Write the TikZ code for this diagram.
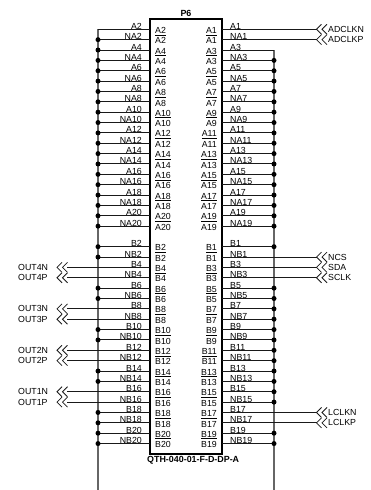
\documentclass[tikz,border=0pt]{standalone}
\usepackage{fontspec}
\setmainfont{Liberation Sans}
\tikzset{
	wire/.style={line width=1pt,black!90},
	bus/.style={line width=1.1pt,black!60},
	junction/.style={circle,fill=black,inner sep=0pt,minimum size=5pt},
	netlabel/.style={inner sep=0pt,font=\fontsize{8.8}{10}\selectfont},
	offlabel/.style={inner sep=0pt,anchor=west,font=\fontsize{8.8}{10}\selectfont},
	partlabel/.style={inner sep=0pt,font=\bfseries\fontsize{8.9}{10}\selectfont},
	chevron/.style={line width=0.8pt,black!90}
}
% double chevron at the end of a wire, tips to the left
\newcommand{\offpage}[1]{
	\draw[chevron] ([shift={(5,-5)}]#1) -- (#1) -- ([shift={(5,5)}]#1);
	\draw[chevron] ([shift={(10.5,-5)}]#1) -- ([shift={(5.5,0)}]#1) -- ([shift={(10.5,5)}]#1);
}
\begin{document}
\begin{tikzpicture}[x=1pt,y=-1pt]
	\useasboundingbox (0,0) rectangle (370,490);

	% Connector body
	\node[partlabel,anchor=base] (title) at (186,16) {P6};
	\node[partlabel,anchor=base west] (part) at (147,462) {QTH-040-01-F-D-DP-A};
	\coordinate (tl) at (150,19);
	\coordinate (br) at (222,454);
	\draw[line width=1.2pt] (tl) rectangle (br);

	% Pins, two per row on each side
	\foreach \pre/\top/\num in {A/29.3/0,B/246.7/1} {
		\foreach \i in {0,...,9} {
			\pgfmathtruncatemacro{\even}{2*\i+2}
			\pgfmathtruncatemacro{\odd}{2*\i+1}
			\pgfmathsetmacro{\ya}{\top+20.72*\i}
			\pgfmathsetmacro{\yb}{\ya+10.36}
			% left side
			\coordinate (l\pre\even) at (150,\ya);
			\coordinate (ln\pre\even) at (150,\yb);
			\node[netlabel,anchor=base west] (pl\pre\even) at (155,\ya+4) {\underline{\pre\even}};
			\node[netlabel,anchor=base west] (pln\pre\even) at (155,\yb+4.2) {\pre\even};
			\node[netlabel,anchor=base east] (nl\pre\even) at (142,\ya) {\pre\even};
			\node[netlabel,anchor=base east] (nln\pre\even) at (142,\yb) {N\pre\even};
			% right side
			\coordinate (r\pre\odd) at (222,\ya);
			\coordinate (rn\pre\odd) at (222,\yb);
			\node[netlabel,anchor=base east] (pr\pre\odd) at (217,\ya+4) {\underline{\pre\odd}};
			\node[netlabel,anchor=base east] (prn\pre\odd) at (217,\yb+4.2) {\pre\odd};
			\node[netlabel,anchor=base west] (nr\pre\odd) at (230,\ya) {\pre\odd};
			\node[netlabel,anchor=base west] (nrn\pre\odd) at (230,\yb) {N\pre\odd};
			% stubs
			\coordinate (bl\pre\even) at (98,\ya);
			\coordinate (bln\pre\even) at (98,\yb);
			\coordinate (br\pre\odd) at (274,\ya);
			\coordinate (brn\pre\odd) at (274,\yb);
		}
	}

	% Power buses
	\coordinate (busltop) at (98,29.3);
	\coordinate (buslend) at (98,490);
	\coordinate (busrtop) at (274,50);
	\coordinate (busrend) at (274,490);
	\draw[bus] (busltop) -- (buslend);
	\draw[bus] (busrtop) -- (busrend);

	% Left stubs on the bus
	\foreach \a/\b in {lA2/blA2,lnA2/blnA2,lA4/blA4,lnA4/blnA4,lA6/blA6,lnA6/blnA6,lA8/blA8,lnA8/blnA8,lA10/blA10,lnA10/blnA10,lA12/blA12,lnA12/blnA12,lA14/blA14,lnA14/blnA14,lA16/blA16,lnA16/blnA16,lA18/blA18,lnA18/blnA18,lA20/blA20,lnA20/blnA20,lB2/blB2,lnB2/blnB2,lB6/blB6,lnB6/blnB6,lB10/blB10,lnB10/blnB10,lB14/blB14,lnB14/blnB14,lB18/blB18,lnB18/blnB18,lB20/blB20,lnB20/blnB20} {
		\draw[wire] (\a) -- (\b);
	}
	\foreach \b in {blnA2,blA4,blnA4,blA6,blnA6,blA8,blnA8,blA10,blnA10,blA12,blnA12,blA14,blnA14,blA16,blnA16,blA18,blnA18,blA20,blnA20,blB2,blnB2,blB6,blnB6,blB10,blnB10,blB14,blnB14,blB18,blnB18,blB20,blnB20} {
		\node[junction] at (\b) {};
	}

	% Right stubs on the bus
	\foreach \a/\b in {rA3/brA3,rnA3/brnA3,rA5/brA5,rnA5/brnA5,rA7/brA7,rnA7/brnA7,rA9/brA9,rnA9/brnA9,rA11/brA11,rnA11/brnA11,rA13/brA13,rnA13/brnA13,rA15/brA15,rnA15/brnA15,rA17/brA17,rnA17/brnA17,rA19/brA19,rnA19/brnA19,rB1/brB1,rB5/brB5,rnB5/brnB5,rB7/brB7,rnB7/brnB7,rB9/brB9,rnB9/brnB9,rB11/brB11,rnB11/brnB11,rB13/brB13,rnB13/brnB13,rB15/brB15,rnB15/brnB15,rB19/brB19,rnB19/brnB19} {
		\draw[wire] (\a) -- (\b);
	}
	\foreach \b in {brnA3,brA5,brnA5,brA7,brnA7,brA9,brnA9,brA11,brnA11,brA13,brnA13,brA15,brnA15,brA17,brnA17,brA19,brnA19,brB1,brB5,brnB5,brB7,brnB7,brB9,brnB9,brB11,brnB11,brB13,brnB13,brB15,brnB15,brB19,brnB19} {
		\node[junction] at (\b) {};
	}

	% Signals leaving on the right
	\foreach \pin/\sig in {rA1/ADCLKN,rnA1/ADCLKP,rnB1/NCS,rB3/SDA,rnB3/SCLK,rB17/LCLKN,rnB17/LCLKP} {
		\coordinate (off\sig) at (\pin -| 316.5,0);
		\draw[wire] (\pin) -- (off\sig);
		\offpage{off\sig}
		\node[offlabel] (lab\sig) at ([xshift=11.5]off\sig) {\sig};
	}

	% Signals leaving on the left
	\foreach \pin/\sig in {lB4/OUT4N,lnB4/OUT4P,lB8/OUT3N,lnB8/OUT3P,lB12/OUT2N,lnB12/OUT2P,lB16/OUT1N,lnB16/OUT1P} {
		\coordinate (off\sig) at (\pin -| 57,0);
		\draw[wire] (\pin) -- ([xshift=10]off\sig);
		\offpage{off\sig}
		\node[offlabel] (lab\sig) at ([xshift=-39]off\sig) {\sig};
	}

\end{tikzpicture}
\end{document}
